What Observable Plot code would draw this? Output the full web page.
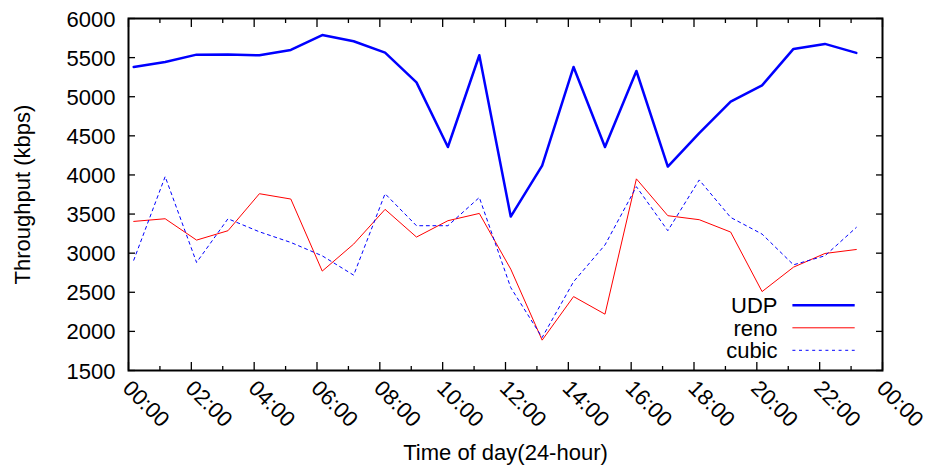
<!DOCTYPE html>
<html>
<head>
<meta charset="utf-8">
<script src="https://cdn.jsdelivr.net/npm/d3@7"></script>
<script src="https://cdn.jsdelivr.net/npm/@observablehq/plot@0.6"></script>
<style>
  html, body { margin: 0; padding: 0; background: #fff; }
  #chart svg { display: block; }
</style>
</head>
<body>
<div id="chart"></div>
<script>
// Hourly samples, taken ten minutes past each hour
const times = ["00:10","01:10","02:10","03:10","04:10","05:10","06:10","07:10",
               "08:10","09:10","10:10","11:10","12:10","13:10","14:10","15:10",
               "16:10","17:10","18:10","19:10","20:10","21:10","22:10","23:10"];

// Throughput in kbps
const udp   = [5380, 5445, 5538, 5540, 5530, 5598, 5788, 5709, 5564, 5184, 4357, 5530,
               3468, 4119, 5381, 4357, 5329, 4107, 4535, 4936, 5145, 5611, 5675, 5560];
const reno  = [3406, 3440, 3167, 3287, 3760, 3692, 2771, 3116, 3560, 3206, 3415, 3508,
               2796, 1888, 2445, 2220, 3950, 3479, 3428, 3270, 2509, 2821, 2996, 3047];
const cubic = [2910, 3979, 2881, 3440, 3273, 3137, 2966, 2719, 3760, 3351, 3351, 3712,
               2560, 1922, 2635, 3105, 3850, 3287, 3936, 3457, 3244, 2851, 2966, 3329];

// Axis ticks
const majorHours = [0, 2, 4, 6, 8, 10, 12, 14, 16, 18, 20, 22, 24];
const hourLabels = ["00:00","02:00","04:00","06:00","08:00","10:00","12:00",
                    "14:00","16:00","18:00","20:00","22:00","00:00"];
const minorHours = [1, 3, 5, 7, 9, 11, 13, 15, 17, 19, 21, 23];
const yTicks = [1500, 2000, 2500, 3000, 3500, 4000, 4500, 5000, 5500, 6000];

const seriesNames = ["UDP", "reno", "cubic"];

const toHour = (t) => { const [h, m] = t.split(":").map(Number); return h + m / 60; };
const rows = times.map((t, i) => ({hour: toHour(t), udp: udp[i], reno: reno[i], cubic: cubic[i]}));

const FONT = "'Liberation Sans', Arial, Helvetica, sans-serif";
const FS = 22;

const styles = {
  UDP:   {stroke: "#0000ff", strokeWidth: 2.5, dash: null},
  reno:  {stroke: "#ff0000", strokeWidth: 1, dash: null},
  cubic: {stroke: "#0000ff", strokeWidth: 1, dash: "3,3.6"}
};

// Key drawn inside the lower right corner of the frame
function key(index, scales, values, dims) {
  const right = dims.width - dims.marginRight;
  const bottom = dims.height - dims.marginBottom;
  const g = d3.create("svg:g");
  seriesNames.forEach((name, i) => {
    const y = bottom - 64.7 + i * 22.5;
    const s = styles[name];
    g.append("text")
      .attr("x", right - 104.5).attr("y", y).attr("dy", "0.35em")
      .attr("text-anchor", "end")
      .attr("font-family", FONT).attr("font-size", FS).attr("fill", "#000")
      .text(name);
    g.append("line")
      .attr("x1", right - 89.6).attr("x2", right - 27.3)
      .attr("y1", y).attr("y2", y)
      .attr("stroke", s.stroke).attr("stroke-width", s.strokeWidth)
      .attr("stroke-dasharray", s.dash);
  });
  return g.node();
}

const tickStyle = {tickFormat: () => "", label: null, strokeWidth: 1.3, stroke: "#000"};

const chart = Plot.plot({
  width: 929,
  height: 471,
  marginLeft: 128,
  marginRight: 47,
  marginTop: 18,
  marginBottom: 101,
  style: {fontFamily: FONT, fontSize: FS + "px", color: "#000", background: "#fff"},
  x: {type: "linear", domain: [0, 24]},
  y: {type: "linear", domain: [1500, 6000]},
  marks: [
    // inward tick marks on all four sides
    Plot.axisX({...tickStyle, ticks: majorHours, tickSize: -8}),
    Plot.axisX({...tickStyle, ticks: minorHours, tickSize: -4}),
    Plot.axisX({...tickStyle, anchor: "top", ticks: majorHours, tickSize: -8}),
    Plot.axisX({...tickStyle, anchor: "top", ticks: minorHours, tickSize: -4}),
    Plot.axisY({...tickStyle, ticks: yTicks, tickSize: -7}),
    Plot.axisY({...tickStyle, anchor: "right", ticks: yTicks, tickSize: -7}),
    // tick labels
    Plot.axisX({
      ticks: majorHours, tickSize: 0, tickPadding: 0, tickRotate: 45,
      textAnchor: "start", lineAnchor: "middle", dx: -2, dy: 14,
      tickFormat: (h) => hourLabels[majorHours.indexOf(h)],
      label: null, fontSize: FS, fill: "#000"
    }),
    Plot.axisY({
      ticks: yTicks, tickSize: 0, tickPadding: 13, dy: 1,
      tickFormat: (d) => String(d), label: null, fontSize: FS, fill: "#000"
    }),
    // axis titles
    Plot.text(["Throughput (kbps)"], {
      frameAnchor: "left", rotate: -90, textAnchor: "middle", lineAnchor: "middle",
      dx: -106, fontSize: FS, fill: "#000"
    }),
    Plot.text(["Time of day(24-hour)"], {
      frameAnchor: "bottom", textAnchor: "middle", lineAnchor: "middle",
      dy: 82.6, fontSize: FS, fill: "#000"
    }),
    // series
    Plot.line(rows, {x: "hour", y: "udp", stroke: styles.UDP.stroke, strokeWidth: styles.UDP.strokeWidth}),
    Plot.line(rows, {x: "hour", y: "reno", stroke: styles.reno.stroke, strokeWidth: styles.reno.strokeWidth}),
    Plot.line(rows, {x: "hour", y: "cubic", stroke: styles.cubic.stroke, strokeWidth: styles.cubic.strokeWidth, strokeDasharray: styles.cubic.dash}),
    Plot.frame({stroke: "#000", strokeWidth: 2}),
    key
  ]
});

document.getElementById("chart").append(chart);
</script>
</body>
</html>
